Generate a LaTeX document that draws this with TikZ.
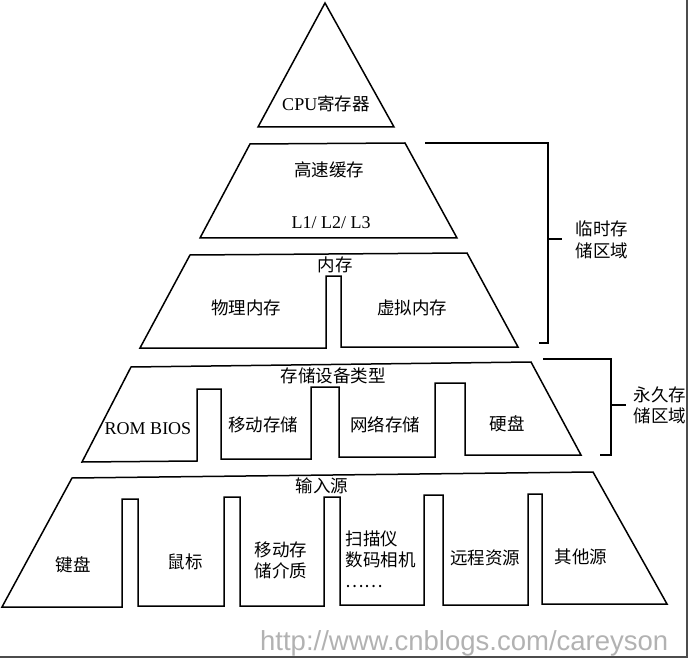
\documentclass[tikz,border=0pt]{standalone}
\usepackage{fontspec}
\setmainfont{Liberation Serif}
\newfontfamily\cjk{Noto Sans CJK SC}
\newfontfamily\urlfont{Liberation Sans}

\begin{document}
\begin{tikzpicture}[x=1pt, y=-1pt, line width=1.5pt,
    txt/.style={font=\cjk\fontsize{17.5}{21}\selectfont, inner sep=0pt},
    lat/.style={txt, font=\rmfamily\fontsize{18}{21}\selectfont},
    brk/.style={line width=1.5pt}]
    \useasboundingbox (0,0) rectangle (690,660);
    % frame
    \draw[line width=2pt, black!70] (0,657) -- (687,657) -- (687,0);

    % layers of the pyramid
    \draw (325,3) -- (394,127) -- (258,127) -- cycle;
    \draw (250,144) -- (405,143) -- (457,238) -- (200,238) -- cycle;
    \draw (190,255) -- (467,253) -- (518,347) -- (341,347) -- (341,276)
        -- (326,276) -- (326,348) -- (140,348) -- cycle;
    \draw (131,367) -- (531,362) -- (581,455) -- (465,455) -- (465,383)
        -- (435,383) -- (435,457) -- (339,457) -- (339,387) -- (311,387)
        -- (311,459) -- (221,459) -- (221,389) -- (197,389) -- (197,461)
        -- (82,462) -- cycle;
    \draw (72,478) -- (593,472) -- (667,604) -- (542,604) -- (542,494)
        -- (528,494) -- (528,605) -- (443,605) -- (443,495) -- (424,495)
        -- (424,605) -- (340,605) -- (340,497) -- (324,497) -- (324,606)
        -- (240,606) -- (240,497) -- (224,497) -- (224,606) -- (138,606)
        -- (138,499) -- (122,499) -- (122,607) -- (2,607) -- cycle;

    % brackets
    \draw[brk] (425,143) -- (548,143) -- (548,343) -- (539,343);
    \draw[brk] (548,239) -- (562,239);
    \draw[brk] (543,359) -- (611,359) -- (611,455) -- (600,455);
    \draw[brk] (611,405) -- (626,405);

    % texts
    \node[txt] (cpu) at (326,104) {{\rmfamily\fontsize{18}{21}\selectfont CPU}寄存器};
    \node[txt] (cache) at (329,170) {高速缓存};
    \node[lat] (lvl) at (331,223) {L1/ L2/ L3};
    \node[txt] (mem) at (335,265) {内存};
    \node[txt] (phys) at (246,308) {物理内存};
    \node[txt] (virt) at (412,308) {虚拟内存};
    \node[txt, align=center, font=\cjk\fontsize{17.5}{22.5}\selectfont]
        (tmp) at (602,240) {临时存\\储区域};
    \node[txt, align=center, font=\cjk\fontsize{17.5}{21}\selectfont]
        (perm) at (660,405) {永久存\\储区域};

    \node[txt] (store) at (333,376) {存储设备类型};
    \node[lat] (rom) at (148,429) {ROM BIOS};
    \node[txt] (mobile) at (263,425) {移动存储};
    \node[txt] (net) at (385,425) {网络存储};
    \node[txt] (disk) at (507,424) {硬盘};

    \node[txt] (input) at (322,486) {输入源};
    \node[txt] (kbd) at (73,565) {键盘};
    \node[txt] (mouse) at (185,562) {鼠标};
    \node[txt, align=center] (media) at (281,560) {移动存\\储介质};
    \node[txt, align=left, anchor=west] (scan) at (345,559) {扫描仪\\数码相机\\……};
    \node[txt] (remote) at (485,558) {远程资源};
    \node[txt] (other) at (581,557) {其他源};

    \node[inner sep=0pt, anchor=base east, text=black!30,
        font=\urlfont\fontsize{27.5}{30}\selectfont] (url) at (669,650)
        {http://www.cnblogs.com/careyson};
\end{tikzpicture}
\end{document}
